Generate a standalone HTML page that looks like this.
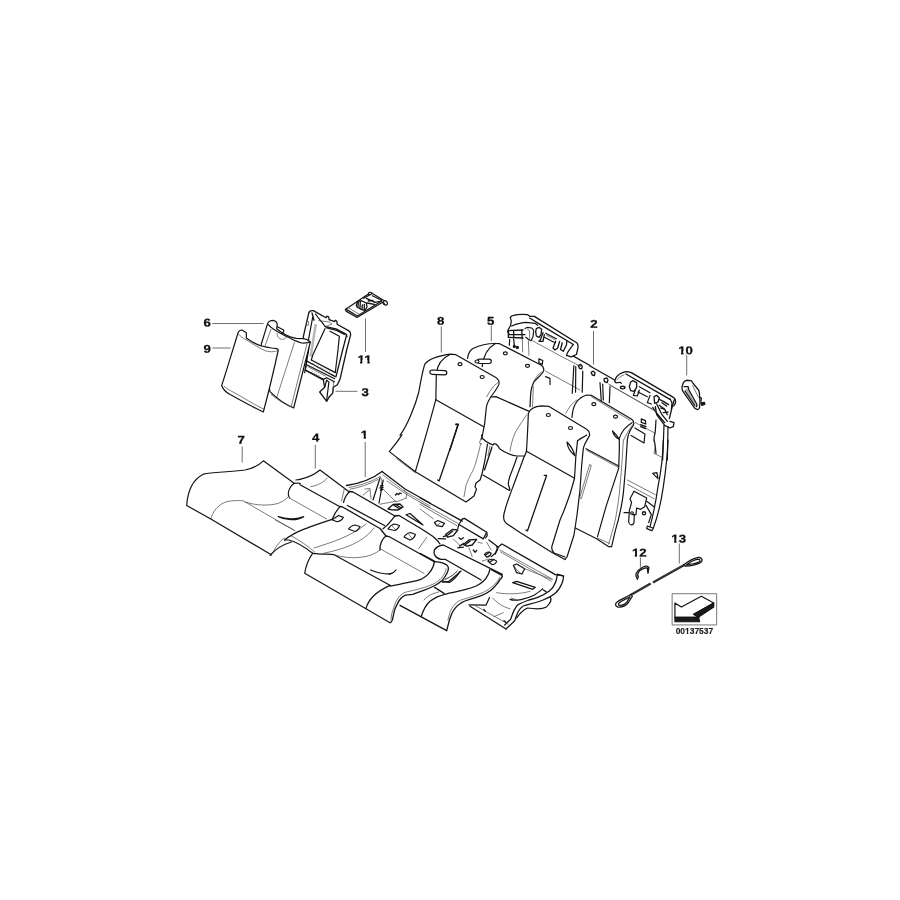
<!DOCTYPE html>
<html>
<head>
<meta charset="utf-8">
<title>Rear seat parts diagram 00137537</title>
<style>
html,body{margin:0;padding:0;background:#fff;width:900px;height:900px;overflow:hidden}
svg{display:block;will-change:transform}
.p path,.p line,.p polyline,.p ellipse,.p circle,.p rect{fill:none;stroke:#141414;stroke-width:1.2;vector-effect:non-scaling-stroke;stroke-linecap:round;stroke-linejoin:round}
.p .w{fill:#fff}
.p .t{stroke-width:0.7;stroke:#444}
.p .k{stroke-width:1.3}
.p .f{fill:#1a1a1a}
.p .cb{stroke-width:2.3;stroke:#262626;stroke-linecap:butt}
.p .cw{stroke-width:0.5;stroke:#999;stroke-dasharray:0.8 1.4;stroke-linecap:butt}
.ld line{stroke:#555;stroke-width:0.85;fill:none}
.lb text{font-family:"Liberation Sans",Arial,Helvetica,sans-serif;font-weight:bold;font-size:11.3px;fill:#0c0c0c;text-anchor:middle;stroke:#0c0c0c;stroke-width:0.25px;transform-box:fill-box;transform-origin:50% 100%;transform:matrix(1.17,0.002,0,1,0,0)}
.id text{font-family:"Liberation Sans",Arial,Helvetica,sans-serif;font-weight:bold;font-size:8.45px;fill:#1c1c1c;stroke:#1c1c1c;stroke-width:0.15px;text-anchor:middle}
</style>
</head>
<body>
<svg width="900" height="900" viewBox="0 0 900 900">
<rect width="900" height="900" fill="#fff"/>
<defs id="ft">
<clipPath id="f1"><path clip-rule="evenodd" d="M355.32,352.05 h18.57 v14.69 h-18.57 Z M357.19,359.96 H360.75 V364.85 H357.19 Z M362.70,359.96 H364.59 V364.85 H362.70 Z M364.61,359.96 H367.03 V364.85 H364.61 Z M368.98,359.96 H372.06 V364.85 H368.98 Z"/></clipPath>
<clipPath id="f2"><path clip-rule="evenodd" d="M676.32,343.00 h18.57 v14.69 h-18.57 Z M678.19,350.91 H681.75 V355.80 H678.19 Z M683.70,350.91 H685.59 V355.80 H683.70 Z"/></clipPath>
<clipPath id="f3"><path clip-rule="evenodd" d="M630.02,545.20 h18.57 v14.69 h-18.57 Z M631.89,553.11 H635.45 V558.00 H631.89 Z M637.40,553.11 H639.29 V558.00 H637.40 Z"/></clipPath>
<clipPath id="f4"><path clip-rule="evenodd" d="M669.42,531.20 h18.57 v14.69 h-18.57 Z M671.29,539.11 H674.85 V544.00 H671.29 Z M676.80,539.11 H678.69 V544.00 H676.80 Z"/></clipPath>
<clipPath id="f5"><path clip-rule="evenodd" d="M358.36,427.20 h12.28 v14.69 h-12.28 Z M360.23,435.11 H363.79 V440.00 H360.23 Z M365.74,435.11 H368.82 V440.00 H365.74 Z"/></clipPath>
<clipPath id="f6"><path clip-rule="evenodd" d="M672.60,625.25 h43.60 v10.98 h-43.60 Z M685.01,631.17 H686.77 V635.20 H685.01 Z M688.33,631.17 H689.69 V635.20 H688.33 Z"/></clipPath>
</defs>

<!-- ===== PARTS ===== -->
<g class="p">

<!-- tileB: part 3 frame (offset 290,290 scale 1/9) -->
<g transform="translate(290,290) scale(0.1111111)">
<path class="w k" d="M120,420 L168,210 C172,190 186,182 210,186 L324,250 L330,236 L348,242 L352,266 L402,284 L408,272 L422,282 L424,308 L530,368 C544,378 549,390 546,402 L510,540 L450,804 L426,852 L390,876 L384,930 L354,960 L330,1002 L267,918 L312,876 L300,810 L138,722 L150,640 Z"/>
<path style="stroke:#b8b8b8;stroke-width:2.6;stroke-linecap:butt" d="M232,306 L186,600"/>
<!-- inner rim -->
<path d="M204,246 L168,438 L168,540 L132,744"/>
<path class="k" d="M198,206 L216,272"/>
<path class="t" d="M153,282 L168,286 L164,318 L150,314 Z"/>
<path d="M228,216 L318,330"/>
<path class="t" d="M258,276 L354,288 L378,306 L318,330"/>
<path class="k" d="M318,330 L414,350 L504,396 L512,420"/>
<path class="k" d="M330,340 L420,364 L490,400"/>
<path class="k" d="M510,402 L474,540 L414,780"/>
<path d="M315,348 L204,588 L192,630"/>
<path d="M360,372 L444,417 L432,540 L408,738"/>
<!-- bottom bars -->
<path class="k" d="M192,630 L408,744"/>
<path class="k" d="M156,642 L200,666 M370,760 L408,780"/>
<path d="M200,666 L370,760"/>
<path class="t" d="M215,662 L205,672 M235,673 L225,683 M255,684 L245,694 M275,695 L265,705 M295,706 L285,716 M315,717 L305,727 M335,728 L325,738 M355,739 L345,749"/>
<path d="M150,672 L402,798"/>
<path class="t" d="M162,690 L318,774"/>
<path class="k" d="M138,720 L300,804"/>
<path class="t" d="M200,735 L190,748 M220,746 L210,759 M240,757 L230,770 M260,768 L250,781"/>
<path class="k" d="M300,804 L330,790 L400,826"/>
<path d="M330,810 L312,876"/>
<path d="M336,816 L350,830 L330,990"/>
<path class="t" d="M384,930 L392,830"/>
</g>

<!-- tileC: part 11 (offset 335,285 scale 1/15) -->
<g transform="translate(335,285) scale(0.0666667)">
<path class="w" d="M155,368 L500,135 C500,105 540,100 555,125 L740,235 C775,235 795,262 785,290 C770,308 738,302 722,280 L720,255 L330,488 L165,392 Z"/>
<path d="M165,362 L335,465 L700,240"/>
<path class="t" d="M335,465 L330,488"/>
<path class="t" d="M200,340 L365,440"/>
<path d="M505,140 C520,150 540,145 550,130"/>
<path d="M730,245 C725,265 735,285 750,295"/>
<path class="k" d="M320,300 L340,250 L390,235 L470,270 L480,330 L450,380 L400,370 L330,330 Z"/>
<path class="k" d="M350,260 L345,320 M380,250 L375,340 M410,300 L405,365 M440,290 L438,370"/>
<path class="k" d="M470,200 L600,260 M500,240 L570,230 M480,270 L590,290"/>
<path d="M430,200 L520,150 M600,260 L700,240 M560,160 L700,230"/>
</g>

<!-- tileA: parts 9 and 6 (offset 190,290 scale 1/6) -->
<g transform="translate(190,290) scale(0.1666667)">
<!-- part 6 -->
<path class="w" d="M428,324 L466,200 C470,192 474,188 480,186 C486,183 492,182 498,182 C508,184 514,188 518,192 L524,204 L520,232 C540,248 548,254 558,260 C572,268 585,275 598,280 C612,285 625,288 638,290 L678,292 C688,293 695,295 702,298 L722,312 L622,708 C580,690 520,650 480,610 Z"/>
<path d="M470,208 C480,220 490,228 502,236 C520,248 535,256 550,264 C565,272 578,278 590,284 C605,292 618,298 630,304 C645,310 658,315 670,318 C685,320 696,318 706,316 L722,312"/>
<path class="t" d="M626,316 L522,640"/>
<path class="t" d="M486,236 L450,336"/>
<path class="t" d="M702,322 L608,696"/>
<path d="M524,220 L562,240 L562,252 L550,260"/>
<path class="t" d="M522,260 C524,275 528,282 530,284 C538,292 545,296 550,296 C560,296 566,294 570,292 C574,288 577,282 578,276"/>
<path class="t" d="M488,628 C530,662 580,692 614,704"/>
<!-- part 9 -->
<path class="w" d="M290,252 C296,242 304,240 312,240 L338,256 L338,288 C360,304 375,313 390,320 C405,327 418,332 430,336 C450,341 470,345 490,348 L522,352 L530,360 C510,450 470,620 440,732 C380,705 300,660 240,627 C215,612 195,592 190,573 C215,500 265,330 290,252 Z"/>
<path class="t" d="M290,264 C300,278 320,290 342,302 C370,320 410,345 450,364 C475,372 500,374 526,364"/>
<path class="t" d="M205,578 C225,595 245,606 258,612 C310,640 390,690 444,716"/>
</g>

<!-- tileD: parts 8/5 top (offset 400,300 scale 1/6) -->
<g transform="translate(400,300) scale(0.1666667)">
<path d="M0,812 C50,745 95,620 112,555 C125,490 135,420 150,383 C175,352 235,335 300,325 L335,328 L575,465 C590,475 597,488 594,505 C585,530 560,560 545,582 C530,605 520,625 518,645 L508,740 L490,835"/>
<path d="M300,327 C260,345 225,385 218,440 L215,598"/>
<path d="M215,598 L502,760"/>
<path class="t" d="M588,496 C575,505 565,512 560,520 C545,540 530,560 520,580"/>
<path d="M215,598 C190,690 160,800 130,900"/>
<path class="w" d="M192,420 L268,424 C285,425 285,448 268,449 L192,446 C175,445 175,420 192,420 Z"/>
<ellipse cx="360" cy="385" rx="12" ry="9"/>
<ellipse cx="493" cy="462" rx="12" ry="9"/>
<path class="k" d="M335,745 L348,745 L300,900"/>
<!-- part 5 top -->
<path d="M405,350 C410,320 420,300 440,290 C480,270 540,258 598,262 L845,390 C858,398 865,410 862,425 C855,445 820,470 805,490 C792,510 785,540 783,580 L780,640"/>
<path d="M575,260 C530,285 500,330 493,400"/>
<path class="w" d="M475,355 L535,355 C552,356 552,380 535,381 L475,381 C460,380 460,356 475,355 Z"/>
<ellipse class="w" cx="462" cy="369" rx="12" ry="9"/>
<ellipse cx="632" cy="320" rx="12" ry="9"/>
<ellipse cx="765" cy="395" rx="12" ry="9"/>
<path d="M545,582 L575,580 L775,668"/>
<path class="t" d="M850,432 C820,452 800,482 795,522"/>
<path class="t" d="M800,520 L795,640"/>
</g>

<!-- tileE: parts 8/5 lower (offset 400,400 scale 1/6) -->
<g transform="translate(400,400) scale(0.1666667)">
<path d="M130,300 L92,430"/>
<path d="M525,264 L510,360 L492,444 L480,480 L456,498 L450,522 L459,534 L444,576 L420,594 L396,612 L92,430"/>
<path class="t" d="M486,228 L477,258 L490,264 M484,262 C478,290 468,330 456,372 C448,400 438,425 428,440 C415,465 405,490 396,512 L384,580"/>
<path class="k" d="M335,147 L350,147 L235,485 L226,480"/>
<path d="M489,210 L492,228 C505,240 515,248 522,252 C535,260 548,266 558,270 L565,262 L575,264 L588,276 C592,285 596,290 600,294 C615,305 630,314 648,321 C670,330 690,335 702,336 L744,336"/>
<path class="k" d="M552,282 L507,420"/>
<path class="t" d="M540,276 L528,335"/>
<path d="M498,450 L657,543"/>
<path d="M702,342 C690,380 670,430 660,456 C652,480 648,500 651,510 L660,540"/>
<path class="t" d="M760,90 C745,110 715,155 690,198 C675,235 665,270 660,306"/>
</g>

<!-- tileG: back frame top-left (offset 500,300 scale 1/9) -->
<g transform="translate(500,300) scale(0.1111111)">
<path class="k" d="M93,156 C100,145 110,140 123,138 C150,130 215,128 249,132 L267,147 L309,147 L690,385 C702,395 706,412 700,440 L688,490"/>
<path class="k" d="M267,162 L363,222 L660,400"/>
<path d="M93,156 L102,192 L93,234 L75,264 L69,288 L81,300"/>
<path d="M105,234 C130,222 150,215 177,210 C200,204 220,201 237,201 L315,210 L339,228"/>
<path class="k" d="M75,276 L207,270 M81,312 L225,312 M75,336 L207,342"/>
<path class="k" d="M123,276 L123,342 M195,270 L201,348 M75,276 L75,336"/>
<path d="M225,258 C232,250 240,246 249,246 L285,252 C297,260 303,270 303,282 L297,330 L279,366 L255,354 L231,336"/>
<path class="t" d="M249,264 L267,276 L267,348"/>
<path class="k" d="M327,258 L351,246 L375,264 L369,312 L351,336 L327,324 L321,282 Z"/>
<path class="k" d="M387,294 L363,360 L351,372 L387,372 L399,312"/>
<path class="k" d="M501,372 L477,432 L495,450 L519,432 L537,372"/>
<path class="k" d="M560,385 L545,445 L570,462 L598,405 L602,370"/>
<path d="M399,336 L495,384 M411,300 L507,348"/>
<path class="t" d="M420,318 L500,360"/>
<path d="M660,400 L610,470 L598,498 L640,512 L688,490"/>
<path class="t" d="M291,366 L567,516 L730,600"/>
<path d="M87,354 L84,408 M123,354 L129,408"/>
<circle class="f" cx="129" cy="418" r="9"/>
<circle class="f" cx="156" cy="427" r="9"/>
<path class="t" d="M201,348 L204,468 M255,360 L261,498"/>
<path class="t" d="M410,640 L720,810"/>
<path d="M665,590 L650,840 M682,600 L680,830 M745,640 L740,830"/>
<path d="M350,530 L385,545 L380,580 L350,565 Z"/>
<path d="M410,690 L450,705 L450,760"/>
<path class="k" d="M660,505 L810,589"/>
<path class="k" d="M705,590 L725,580 L740,595 L735,620 L715,615 Z"/>
<path class="k" d="M820,650 L840,640 L855,655 L850,680 L830,675 Z"/>
</g>

<!-- tileH: 3rd and 4th covers (offset 500,390 scale 1/6) -->
<g transform="translate(500,390) scale(0.1666667)">
<!-- 4th cover -->
<path d="M432,165 C435,100 455,50 520,30 L548,32 L790,175 C802,185 806,198 800,212 C785,232 768,262 764,300"/>
<path class="t" d="M548,40 L780,182"/>
<path d="M792,196 C760,215 728,250 716,290 L716,360 L712,470 L636,700 L585,880"/>
<path class="t" d="M796,208 C775,235 750,280 742,300"/>
<path class="t" d="M395,140 C410,110 430,80 460,60"/>
<ellipse cx="563" cy="85" rx="12" ry="9"/>
<ellipse cx="693" cy="160" rx="12" ry="9"/>
<path d="M675,245 C690,260 705,275 715,295 C695,285 680,268 675,245 Z"/>
<!-- 3rd cover -->
<path class="w" d="M170,142 C178,115 210,98 250,95 L292,98 L520,235 C535,245 541,258 536,275 C525,300 505,320 500,350 L490,450 L480,600 L462,750 L444,870 L402,1002 L390,1017 L312,975 L120,855 L45,805 C30,795 20,780 22,765 C24,740 30,720 30,720 C40,680 65,615 84,564 C100,520 125,455 144,402 C148,395 152,390 159,366 C163,300 168,200 170,142 Z" style="stroke:none"/>
<path d="M170,142 C178,115 210,98 250,95 L292,98 L520,235 C535,245 541,258 536,275 C525,300 505,320 500,350 L490,450 L480,600 L462,750 L444,870 L402,1002 L390,1017"/>
<path d="M170,142 C168,200 163,300 159,366 C152,390 148,395 144,402 C125,455 100,520 84,564 C65,615 40,680 30,720 C24,740 20,755 22,765 C22,780 30,795 45,805 L120,855 L312,975 L390,1017"/>
<path d="M159,368 L445,528"/>
<path d="M465,305 C480,290 500,285 520,270"/>
<path d="M465,305 L455,400 L447,531 C430,600 400,690 360,780 L312,936 C308,950 312,965 324,978 L390,1002"/>
<path class="k" d="M265,512 L280,512 L165,845 L155,840"/>
<ellipse cx="290" cy="150" rx="12" ry="9"/>
<ellipse cx="423" cy="228" rx="12" ry="9"/>
<path d="M402,312 C420,330 440,360 450,395 C425,375 405,345 402,312 Z"/>
</g>

<!-- tileI: back frame top-right + part 10 (offset 590,340 scale 1/7.5) -->
<g transform="translate(590,340) scale(0.1333333)">
<path class="k" d="M0,195 L185,300"/>
<path class="k" d="M105,292 L125,284 L135,300 L128,320 L108,312 Z"/>
<path class="k" d="M185,310 C188,295 192,285 200,275 C212,262 225,252 240,247 C255,240 268,237 280,237 L310,245 L625,430 C640,440 645,455 640,475 L628,495"/>
<path d="M185,310 L195,322 L225,317 L235,325"/>
<path class="t" d="M150,340 L470,520"/>
<path class="k" d="M270,255 L600,445"/>
<path class="t" d="M200,300 C215,280 235,268 255,262"/>
<path class="k" d="M305,315 L320,305 L350,320 L350,355 L330,385 L305,380 L295,350 Z"/>
<path d="M340,375 L325,415 L355,420 L370,375"/>
<path d="M450,415 L430,470 L460,480"/>
<path class="k" d="M480,425 L500,415 L520,435 L510,465 L485,475 Z"/>
<ellipse class="k" cx="245" cy="357" rx="17" ry="10"/>
<path d="M370,350 L450,395 M360,390 L430,425"/>
<path class="k" d="M470,505 L490,535 L530,585 L560,620 M520,445 L550,460 L590,485 M530,510 L560,520 M550,545 L585,540 M500,480 L540,560 L580,610"/>
<path class="k" d="M490,500 L500,560 L560,640 L600,660 L625,650 L630,620 L600,610"/>
<path class="k" d="M520,490 L560,520 L580,560 M540,470 L575,495"/>
<path class="k" d="M632,448 L618,495 L595,590"/>
<path d="M600,440 L615,470 L610,520"/>
<path class="t" d="M140,330 L500,540"/>
<path class="t" d="M340,620 L490,700"/>
<path d="M75,320 L85,460 M95,330 L100,450 M150,350 L145,470"/>
<path d="M495,600 L490,680 L480,740 L490,800 L495,850 M555,640 L545,900 M585,650 L580,900"/>
<path d="M337,660 L412,705 L405,772 L308,716"/>
<path class="k" d="M385,592 L415,605 L418,630 L385,618 Z M380,635 L420,650 M380,650 L418,665"/>
<!-- part 10 -->
<path class="k" d="M694,337 C700,315 712,304 724,302 L757,304 C762,308 766,313 769,319 L814,375 C818,385 820,395 821,405 L825,465 L821,510 C815,520 808,522 802,521 C795,518 790,515 784,510 L697,386 C692,376 690,366 690,356 C690,348 692,342 694,337 Z"/>
<path style="stroke:#aaa;stroke-width:2.2;stroke-linecap:butt" d="M722,368 L788,488"/>
<path class="k" d="M705,349 L735,349 L742,375 L802,484 L799,499"/>
<path d="M712,382 L787,495"/>
<path class="t" d="M770,340 L808,420"/>
<path d="M817,427 L836,435 L832,460"/>
<path class="f" d="M832,472 L858,468 L862,482 L840,491 Z"/>
</g>

<!-- tileJ: 4th cover lower + frame right rail (offset 570,440 scale 1/7.5) -->
<g transform="translate(570,440) scale(0.1333333)">
<path d="M120,65 L365,195"/>
<path class="t" d="M125,78 L360,205"/>
<path class="t" d="M150,185 L160,190 L85,440 L75,435 Z"/>
<path d="M40,660 L200,740 L290,800 L312,800"/>
<path class="t" d="M205,735 L295,775"/>
<path d="M430,0 C425,100 415,250 400,400 C390,480 370,580 340,680 L312,800"/>
<path class="t" d="M400,0 C395,100 385,250 370,400 C360,480 350,560 330,640 L290,780"/>
<!-- frame right rail -->
<path d="M700,0 C698,100 680,250 660,350 C650,420 630,540 600,650"/>
<path d="M735,0 C732,100 715,250 700,350 C690,420 670,540 625,660"/>
<path d="M580,645 L625,662 L615,680 L575,665 Z"/>
<path class="t" d="M430,300 L640,410 M430,332 L630,440"/>
<path d="M480,385 L575,435 L560,500 L530,520 L500,510 L495,560 L470,560"/>
<path d="M480,385 L450,440 L462,470 L445,530 L440,615 C445,640 470,645 480,620 L482,560"/>
<circle cx="465" cy="548" r="10"/>
<circle cx="555" cy="550" r="12" class="k"/>
<path d="M575,460 L630,500 M570,490 L610,560 L590,620"/>
<path class="t" d="M625,0 L640,40 L630,100 L690,130"/>
<path d="M620,250 L660,290 L652,245 Z"/>
<path d="M405,545 L440,545"/>
</g>

<!-- tileK: part 7 left (offset 170,430 scale 1/6) -->
<g transform="translate(170,430) scale(0.1666667)">
<path d="M610,750 L245,534 L100,453 C105,380 130,300 200,265 C260,250 350,255 450,240 C500,230 535,210 560,185 L745,320"/>
<path d="M745,320 C725,335 712,355 710,380 C709,392 712,400 718,408"/>
<path d="M745,320 L772,318 L782,323"/>
<path class="t" d="M245,534 C255,490 290,445 340,430 C380,422 420,422 440,425 L750,605"/>
<path class="t" d="M450,432 C520,455 600,455 650,440 C680,428 700,412 712,398"/>
<path class="t" d="M720,410 L940,534"/>
<path class="k" d="M650,520 C690,540 760,548 802,520 C770,535 700,540 650,520 Z"/>
<path d="M755,300 C765,299 775,298 782,296"/>
</g>

<!-- tileL: parts 4/7 humps (offset 300,440 scale 1/7.5) -->
<g transform="translate(300,440) scale(0.1333333)">
<path d="M0,295 C60,282 110,258 150,225 L370,390"/>
<path d="M0,335 L300,500"/>
<path class="t" d="M80,350 C140,340 180,315 205,285"/>
<path d="M300,500 C275,525 255,560 240,598"/>
<path d="M240,598 L290,566 L325,580 C318,598 300,610 278,613 Z"/>
</g>

<!-- tileO: part 1 top-left corner (offset 340,460 scale 1/10) -->
<g transform="translate(340,460) scale(0.1)">
<path class="k" d="M65,255 C200,235 330,185 420,115"/>
<path class="t" d="M90,275 C220,252 340,205 400,165"/>
<path class="t" d="M100,292 C200,275 300,240 380,195"/>
<path class="k" d="M420,115 L650,290 L900,430"/>
<path class="t" d="M430,150 L640,310 L900,460"/>
<path class="t" d="M470,210 L660,340 L900,480"/>
<path d="M400,180 L330,400 M432,200 L390,430"/>
<path class="t" d="M400,165 L420,200 L412,260"/>
<path class="k" d="M405,260 L430,255 M400,280 L430,275 M405,300 L425,295"/>
<path class="k" d="M555,350 L570,335 L585,345 L600,330 L612,335"/>
<path class="t" d="M430,290 L560,420 L660,382"/>
<path class="t" d="M400,442 L560,412"/>
<path class="t" d="M250,290 L300,285 L310,390 M230,350 L295,300"/>
<path class="k" d="M480,490 L530,445 L600,440 L630,470 L580,500 L520,498 Z M540,455 L600,490 M560,448 L615,480"/>
<path d="M660,548 L700,535 L830,650 Z"/>
<path class="t" d="M640,300 L670,330 L660,385"/>
<path class="k" d="M95,315 L130,320 L550,560"/>
<path d="M95,315 C70,340 45,380 35,425"/>
<path class="t" d="M45,282 L15,410"/>
<path class="k" d="M75,455 L445,655"/>
<path class="k" d="M0,465 L30,472 L400,685 L460,760"/>
<path class="k" d="M550,560 C520,590 495,640 430,688"/>
<path class="k" d="M550,560 L590,555 L820,693 L927,763 C960,790 985,815 1000,840"/>
<path d="M480,690 C500,660 520,645 545,640 L595,655 C585,680 565,700 545,705 Z"/>
<path d="M640,770 C660,740 680,728 705,725 L755,745 C745,772 725,792 700,800 Z"/>
<path class="t" d="M520,660 L560,700 M690,745 L720,785"/>
<path class="k" d="M460,760 C425,785 395,840 400,900"/>
<path d="M85,690 C105,665 130,652 150,650 L200,665 C190,690 170,710 150,715 Z"/>
</g>

<!-- tileN: part 7 right front-left (offset 270,520 scale 1/7.5) -->
<g transform="translate(270,520) scale(0.1333333)">
<path d="M320,250 C290,290 270,340 260,400 L720,665 L900,770"/>
<path d="M320,250 C380,258 440,255 480,260 L900,490"/>
<path d="M720,665 C735,600 790,540 900,490"/>
<path class="t" d="M330,210 C450,170 600,130 720,30"/>
<path class="t" d="M400,250 C550,220 700,170 780,60"/>
<path class="t" d="M480,260 C600,300 760,290 830,220"/>
<path d="M0,265 C30,230 80,190 160,165"/>
<path class="t" d="M20,250 C40,200 80,150 110,135"/>
<path d="M110,150 C180,90 300,50 420,10 L465,-5"/>
<path d="M110,150 L140,150 C200,165 270,210 320,250"/>
<path class="t" d="M160,120 C220,150 290,200 335,240"/>
<path class="k" d="M755,375 C800,395 850,405 900,405"/>
<path class="t" d="M40,0 L180,75"/>
</g>

<!-- tileP: right ends of parts 7 and 4 (offset 380,520 scale 1/7.5) -->
<g transform="translate(380,520) scale(0.1333333)">
<path class="k" d="M45,120 L67,124 L410,315"/>
<path class="k" d="M408,312 C430,314 450,316 467,321 C485,327 496,332 502,339 C510,348 514,356 513,365 C512,378 508,390 502,400 C492,420 480,438 467,452 C450,468 430,482 408,493 C382,506 355,518 327,528 C300,538 272,548 245,557 C225,561 208,561 192,563 C178,568 166,576 157,587 C145,600 136,615 128,633 C118,652 110,672 105,692 L93,750 L80,770"/>
<path class="t" d="M496,365 C494,378 490,390 484,400 C474,420 462,435 449,447 C432,462 415,473 397,482 C370,494 342,503 315,511 C285,520 252,528 222,534 C200,538 182,544 169,552 C155,562 143,574 134,587 C124,602 117,617 111,633 L88,703 L82,750"/>
<path class="k" d="M408,312 C405,328 402,340 397,353 C388,375 376,392 362,406 C348,420 332,432 315,441 C290,452 262,459 233,464 C205,470 175,476 146,482 L76,496"/>
<path class="t" d="M0,215 L330,400"/>
<path class="k" d="M75,405 C95,400 110,390 120,375"/>
<!-- part 4 right end -->
<path class="k" d="M824,371 C820,390 815,405 807,417 C800,432 790,446 777,458 C762,472 745,484 725,493 C698,505 668,514 637,522 C608,530 580,537 550,543 C528,547 506,552 486,557 C468,562 450,568 433,575 C412,585 392,597 375,610 C350,632 325,675 310,722"/>
<path class="k" d="M835,372 L915,415 C920,425 912,438 900,447 C892,462 882,475 871,487 C860,502 846,516 830,528 C808,545 782,558 754,569 C726,580 697,589 667,598 C645,605 625,612 608,622 C592,632 578,644 567,657 C555,672 545,688 538,703 L521,750 L500,830"/>
<path class="t" d="M900,429 C888,450 875,467 859,482 C845,497 830,510 812,522 C790,537 765,548 737,557 C708,568 678,578 649,587 C630,592 612,598 597,604 C580,613 566,625 556,639 C544,654 534,670 527,686 L509,750"/>
<path class="k" d="M150,640 L500,830"/>
<path class="k" d="M410,505 L480,550"/>
<path d="M470,462 L520,468 C550,450 580,420 600,385"/>
<path class="t" d="M490,440 C530,430 560,410 580,380"/>
<path class="t" d="M350,130 L290,215"/>
<path class="t" d="M330,600 C350,575 390,550 440,540"/>
</g>

<!-- tileQ: part 1 middle + bolster (offset 420,490 scale 1/9) -->
<g transform="translate(420,490) scale(0.1111111)">
<path class="k" d="M0,70 L380,280"/>
<path class="t" d="M0,110 L340,300"/>
<path class="t" d="M0,130 L330,320"/>
<path class="k" d="M380,262 L400,255 L600,380 L605,410 L590,432"/>
<path d="M380,262 L350,310 L570,440 L600,380"/>
<path d="M350,310 L340,350"/>
<path class="k" d="M230,400 L290,355 L340,360 L300,410 L250,425 Z"/>
<path class="k" d="M250,405 L295,370 M165,437 L230,440 M210,420 L240,410"/>
<path class="k" d="M390,490 L440,450 L510,445 L470,495 L420,505 Z"/>
<path class="k" d="M410,490 L450,460 M340,520 L390,515 M355,505 L395,480"/>
<path class="k" d="M350,430 L370,445 L390,430 M480,540 L495,560 L510,545"/>
<path class="t" d="M300,440 L360,500 M440,520 L470,600 M520,470 L560,480"/>
<path class="k" d="M620,450 L700,510"/>
<path d="M580,580 C590,560 615,550 640,570 C635,590 620,600 600,605 Z"/>
<path d="M610,640 C625,620 660,615 690,640 C685,660 670,670 650,672 Z"/>
<path class="k" d="M590,585 L625,560 M625,650 L665,625"/>
<path d="M690,510 C705,530 700,560 640,600"/>
<path class="t" d="M600,470 L640,540 M560,640 L620,620"/>
<path d="M130,292 L160,275 L220,300 L200,330 L150,320 Z"/>
<path class="t" d="M0,170 L120,260 M150,320 L180,300"/>
<!-- part 4 bolster -->
<path class="k" d="M130,540 C145,515 170,500 210,495 L740,760"/>
<path class="k" d="M130,540 C120,570 130,610 190,625 L230,625 L550,810"/>
<path class="k" d="M0,570 L130,640"/>
<path d="M200,830 L260,822 C290,800 320,770 370,730"/>
<path class="t" d="M210,815 C250,800 290,770 330,735"/>
</g>

<!-- tileR: part 1 right end (offset 470,530 scale 1/7.5) -->
<g transform="translate(470,530) scale(0.1333333)">
<path class="k" d="M190,180 L200,150 L220,120 L240,105 L640,335 L690,342"/>
<path class="t" d="M225,150 L620,370"/>
<path class="t" d="M230,165 L610,385"/>
<path class="k" d="M655,332 L702,345 C700,370 695,390 688,405 C675,435 658,460 635,478 C610,498 580,512 548,525 C500,545 450,555 400,570 C375,585 360,610 350,640 L335,680 L270,742"/>
<path class="k" d="M655,332 C652,355 648,375 642,392 C632,420 615,442 595,458 C570,478 540,492 508,505 C485,514 462,520 442,525 C420,532 390,545 360,560 C335,580 320,620 305,670 L260,712"/>
<path d="M600,500 C615,520 610,545 570,580 C540,595 480,592 430,585 C400,600 370,630 350,660"/>
<path class="k" d="M0,572 L270,742"/>
<path d="M-8,561 L120,564 L146,506"/>
<path class="t" d="M30,562 L285,705"/>
<path d="M325,265 L350,255 L410,290 L390,330 L350,320 Z"/>
<path class="t" d="M330,270 C350,300 370,320 390,330 M410,290 C480,320 540,340 610,370"/>
<path d="M320,395 L350,385 L490,430 L470,445 Z"/>
<path class="t" d="M200,470 C280,485 380,480 450,460"/>
<path d="M300,520 C340,535 420,520 480,490 C510,470 530,455 545,440"/>
<path class="t" d="M310,510 L350,525 M170,510 C200,545 250,580 300,590"/>
<path class="k" d="M105,595 L115,610 M255,680 L270,692 M550,450 L570,462"/>
<path class="t" d="M180,650 L250,620"/>
<!-- part 4 right end -->
</g>

<!-- tileS: part 8 lower-left (offset 370,400 scale 1/7.5) -->
<g transform="translate(370,400) scale(0.1333333)">
<path d="M240,260 C210,310 175,350 145,387 L340,538"/>
<path class="t" d="M200,440 L338,545"/>
</g>

<!-- tileT: parts 12, 13, arrow box (offset 610,530 scale 1/7.5) -->
<g transform="translate(610,530) scale(0.1333333)">
<path class="k" d="M205,368 C183,340 193,310 235,285 C255,272 280,262 292,282 L285,322"/>
<path class="k" d="M212,352 C200,330 212,308 245,292 C260,284 272,280 280,286"/>
<path d="M205,368 L212,352 M280,286 L285,322"/>
<path class="cb" d="M152,490 L305,402 M322,393 L560,260"/>
<path class="cw" d="M152,490 L305,402 M322,393 L560,260"/>
<path class="k" d="M160,482 C120,505 80,520 55,538 C35,552 38,575 60,578 C90,580 120,568 140,540 L168,496"/>
<path d="M150,500 C120,518 90,530 70,545 C58,555 62,565 75,565 C95,565 115,555 130,535 Z"/>
<path class="k" d="M552,262 C580,240 620,215 655,207 C680,202 695,215 690,232 C680,250 640,262 600,268 L562,270"/>
<path d="M572,262 C600,240 635,222 660,218 C675,218 680,228 670,238 C650,250 620,255 590,258 Z"/>
<rect x="469" y="478" width="331" height="234" style="stroke:#555;stroke-width:0.8;stroke-linejoin:miter"/>
<path d="M487,548 L535,578 L685,497 L778,548 L628,632 L665,655 L487,655 Z"/>
<path class="f" d="M487,655 L665,655 L672,688 L487,688 Z"/>
<path class="f" d="M628,632 L778,548 L778,578 L668,650 L665,655 Z"/>
</g>

</g>

<!-- ===== LEADERS ===== -->
<g class="ld">
<line x1="365.5" y1="318.5" x2="365.5" y2="352"/>
<line x1="335.5" y1="391.3" x2="357.5" y2="391.3"/>
<line x1="212.3" y1="323.5" x2="263.5" y2="323.5"/>
<line x1="212.3" y1="348" x2="230.5" y2="348"/>
<line x1="686.7" y1="354.9" x2="686.7" y2="375.5"/>
<line x1="593.5" y1="331" x2="593.5" y2="364.5"/>
<line x1="242.2" y1="446.5" x2="242.2" y2="462.5"/>
<line x1="315.3" y1="444.8" x2="315.3" y2="468.5"/>
<line x1="365.2" y1="442" x2="365.2" y2="477"/>
<line x1="441.3" y1="326.3" x2="441.3" y2="352.5"/>
<line x1="491.3" y1="325.6" x2="491.3" y2="341"/>
<line x1="640.4" y1="557.5" x2="640.4" y2="567.5"/>
<line x1="679.3" y1="543.5" x2="679.3" y2="563.5"/>
</g>

<!-- ===== LABELS ===== -->
<g class="lb">
<text x="364.6" y="363.35" clip-path="url(#f1)">11</text>
<text x="365.2" y="395.9">3</text>
<text x="207.2" y="326.6">6</text>
<text x="207.2" y="352.7">9</text>
<text x="685.6" y="354.3" clip-path="url(#f2)">10</text>
<text x="593.9" y="327.8">2</text>
<text x="639.3" y="556.5" clip-path="url(#f3)">12</text>
<text x="678.7" y="542.5" clip-path="url(#f4)">13</text>
<text x="241.3" y="443.7">7</text>
<text x="315.8" y="441.6">4</text>
<text x="364.5" y="438.5" clip-path="url(#f5)">1</text>
<text x="440.6" y="324.8">8</text>
<text x="490.8" y="324.8">5</text>
</g>

<g class="id"><text x="694.4" y="633.7" clip-path="url(#f6)">00137537</text></g>

</svg>
</body>
</html>
